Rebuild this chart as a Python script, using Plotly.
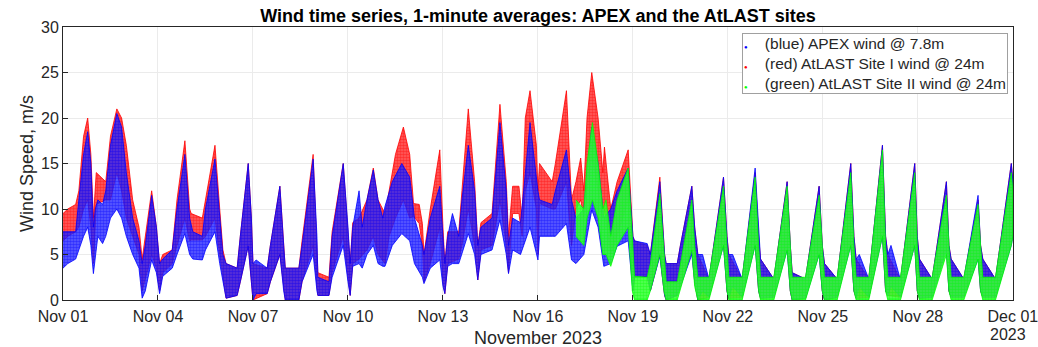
import pandas as pd
import plotly.graph_objects as go

# ---------------- data (days since 2023-11-01 00:00, wind speed m/s envelopes) -------------
blue_t = [0.00, 0.15, 0.40, 0.50, 0.65, 0.78, 0.88, 0.96, 1.02, 1.10, 1.25, 1.35, 1.50, 1.70, 1.85,
          2.00, 2.20, 2.40, 2.50, 2.60, 2.80, 2.95, 3.05, 3.15, 3.45, 3.60, 3.85, 4.00, 4.10, 4.40,
          4.50, 4.80, 4.95, 5.05, 5.15, 5.50, 5.60, 5.85, 5.95, 6.00, 6.10, 6.45, 6.55, 6.85, 6.97,
          7.02, 7.45, 7.55, 7.90, 8.02, 8.05, 8.40, 8.50, 8.85, 9.00, 9.07, 9.15, 9.35, 9.45, 9.60,
          9.80, 9.95, 10.10, 10.17, 10.40, 10.70, 10.95, 11.10, 11.35, 11.40, 11.60, 11.90, 12.00,
          12.06, 12.15, 12.30, 12.50, 12.60, 12.80, 13.00, 13.10, 13.20, 13.55, 13.80, 14.00, 14.07,
          14.20, 14.45, 14.55, 14.75, 15.00, 15.05, 15.45, 15.55, 15.90, 16.06, 16.20, 16.45, 16.55,
          16.70, 16.90, 17.08, 17.30, 17.50, 17.85, 18.00, 18.05, 18.45, 18.55, 18.85, 19.00, 19.05,
          19.40, 19.50, 19.86, 19.95, 20.05, 20.20, 20.40, 20.86, 20.97, 21.02, 21.15, 21.45, 21.86,
          21.97, 22.03, 22.45, 22.87, 22.97, 23.03, 23.45, 23.88, 23.98, 24.05, 24.45, 24.88, 24.98,
          25.05, 25.15, 25.45, 25.88, 25.98, 26.05, 26.15, 26.45, 26.90, 26.98, 27.05, 27.45, 27.90,
          27.98, 28.05, 28.45, 28.90, 28.98, 29.05, 29.45, 29.95, 30.00]
blue_lo = [3.5, 4.0, 4.5, 5.5, 7.0, 8.0, 6.0, 2.9, 5.0, 7.0, 6.2, 7.0, 9.0, 10.0, 9.0,
           7.0, 5.0, 3.5, 0.2, 1.0, 4.4, 3.0, 0.7, 2.6, 3.5, 5.0, 7.3, 5.0, 4.5, 4.4,
           5.5, 7.5, 4.0, 2.0, 0.2, 0.5, 2.0, 5.9, 2.0, 0.0, 0.7, 0.7, 2.0, 5.0, 1.0,
           0.0, 0.0, 2.0, 5.0, 1.0, 0.5, 0.5, 2.5, 6.0, 2.0, 0.5, 3.7, 4.0, 3.5, 5.0,
           6.0, 4.0, 3.7, 3.7, 6.0, 7.3, 6.5, 4.0, 2.5, 1.8, 3.5, 4.4, 1.5,
           0.7, 3.7, 4.0, 4.0, 5.0, 7.3, 5.0, 2.2, 5.0, 5.5, 8.8, 5.0, 2.9,
           5.5, 5.0, 6.0, 8.0, 4.4, 7.0, 7.0, 7.0, 8.4, 4.4, 4.0, 5.0, 7.0,
           9.9, 8.0, 3.7, 4.0, 5.9, 6.5, 1.0, 2.5, 2.6, 1.0, 4.8, 0.5, 0.0,
           0.5, 1.5, 5.0, 2.0, 0.0, 1.0, 0.3, 6.0, 1.0, 0.2, 1.5, 0.3, 6.0,
           1.0, 0.2, 0.3, 5.5, 1.0, 0.0, 0.2, 5.0, 1.0, 0.0, 0.3, 6.0, 1.0,
           0.2, 1.5, 0.3, 7.0, 1.0, 0.5, 1.5, 0.3, 6.0, 1.0, 0.2, 0.3, 5.5,
           1.0, 0.3, 0.3, 4.5, 1.0, 0.3, 0.3, 6.0, 7.0]
blue_hi = [7.5, 7.5, 7.5, 11.0, 16.0, 18.5, 15.0, 8.0, 10.0, 11.0, 10.5, 12.0, 17.0, 20.5, 19.0,
           14.0, 9.0, 6.5, 4.0, 6.0, 11.5, 8.0, 4.0, 4.5, 5.5, 10.0, 16.0, 9.0, 7.5, 7.0,
           10.0, 15.5, 9.0, 5.0, 4.0, 3.5, 7.0, 15.0, 9.0, 4.0, 4.4, 3.5, 6.0, 12.5, 6.0,
           3.5, 3.5, 6.0, 15.5, 7.0, 2.5, 2.0, 7.0, 15.0, 8.0, 4.0, 8.0, 12.0, 8.0, 11.0,
           14.3, 11.0, 9.0, 10.3, 13.0, 15.0, 13.5, 9.0, 6.0, 5.0, 9.0, 12.5, 7.0,
           4.0, 7.0, 9.5, 7.0, 11.0, 17.0, 12.0, 6.0, 8.0, 9.0, 19.5, 12.0, 6.0,
           9.0, 8.5, 12.0, 19.5, 12.0, 11.0, 10.5, 12.0, 16.5, 11.0, 9.0, 10.0, 14.0,
           19.0, 15.0, 9.0, 10.0, 12.0, 14.5, 7.0, 6.5, 6.2, 5.0, 13.0, 5.0, 4.0,
           4.0, 6.0, 12.5, 8.0, 5.0, 5.0, 2.3, 13.5, 7.0, 5.0, 5.0, 2.3, 14.5,
           7.0, 4.5, 2.3, 13.0, 6.0, 3.0, 2.3, 12.5, 6.0, 4.0, 2.3, 15.0, 7.0,
           4.5, 5.0, 2.3, 17.0, 7.0, 5.0, 6.0, 2.2, 15.0, 7.0, 4.5, 2.3, 13.0,
           6.0, 4.5, 2.3, 11.5, 6.0, 4.5, 2.3, 15.0, 13.0]

red_t = [0.00, 0.15, 0.40, 0.50, 0.65, 0.78, 0.88, 0.96, 1.05, 1.35, 1.50, 1.70, 1.85, 2.00, 2.20,
         2.40, 2.50, 2.80, 2.95, 3.05, 3.15, 3.45, 3.60, 3.85, 4.00, 4.05, 4.40, 4.50, 4.80, 4.95,
         5.05, 5.15, 5.50, 5.60, 5.85, 5.95, 6.00, 6.45, 6.55, 6.85, 7.02, 7.45, 7.55, 7.90, 8.05,
         8.40, 8.50, 8.85, 9.07, 9.15, 9.35, 9.60, 9.80, 9.95, 10.17, 10.30, 10.50, 10.75, 10.95,
         11.07, 11.25, 11.35, 11.40, 11.60, 11.90, 12.00, 12.06, 12.15, 12.50, 12.60, 12.80, 13.00,
         13.10, 13.20, 13.55, 13.80, 14.00, 14.07, 14.20, 14.40, 14.50, 14.60, 14.75, 14.95, 15.00,
         15.05, 15.45, 15.55, 15.90, 16.06, 16.20, 16.35, 16.45, 16.55, 16.70, 16.90, 17.05, 17.10,
         17.30, 17.50, 17.85, 18.00, 18.05, 18.45, 18.55, 18.85, 19.00, 19.05, 19.40, 19.50, 19.86,
         19.95, 20.05, 20.40, 20.86, 20.97, 21.03, 21.45, 21.86, 21.97, 22.03, 22.45, 22.87, 22.97,
         23.03, 23.45, 23.88, 23.98, 24.05, 24.45, 24.88, 24.98, 25.05, 25.45, 25.88, 25.98, 26.05,
         26.45, 26.90, 26.98, 27.05, 27.45, 27.90, 27.98, 28.05, 28.45, 28.90, 28.98, 29.05, 29.45,
         29.95, 30.00]
red_lo = [6.5, 7.0, 7.5, 8.0, 10.0, 11.0, 8.0, 4.0, 10.5, 11.0, 11.0, 14.0, 12.0, 9.0, 7.0,
          5.0, 1.0, 5.0, 3.5, 1.0, 3.0, 4.0, 6.0, 9.0, 6.5, 6.6, 6.6, 7.0, 9.0, 5.0,
          2.5, 0.2, 0.5, 2.0, 6.0, 2.0, 0.0, 0.7, 2.0, 5.0, 0.0, 0.0, 2.0, 6.0, 0.5,
          0.5, 3.0, 7.0, 0.5, 4.0, 4.5, 5.5, 7.0, 5.0, 4.0, 7.0, 9.0, 11.0, 9.0,
          9.2, 8.4, 5.9, 2.0, 4.0, 8.0, 2.0, 0.7, 4.0, 4.5, 6.0, 10.0, 6.0,
          2.2, 5.5, 6.0, 11.0, 6.0, 3.0, 9.5, 9.5, 7.0, 12.0, 14.0, 10.0, 5.0,
          10.6, 10.0, 10.0, 13.0, 6.0, 10.0, 11.0, 9.0, 12.0, 16.0, 12.0, 9.0, 10.0,
          5.0, 7.0, 11.0, 1.0, 2.5, 2.6, 1.0, 5.0, 0.5, 0.0, 0.5, 1.5, 5.5,
          2.0, 0.0, 0.3, 6.5, 1.0, 0.2, 0.3, 6.5, 1.0, 0.2, 0.3, 6.0, 1.0,
          0.0, 0.2, 5.5, 1.0, 0.0, 0.3, 6.5, 1.0, 0.2, 0.3, 7.5, 1.0, 0.5,
          0.3, 6.5, 1.0, 0.2, 0.3, 6.0, 1.0, 0.3, 0.3, 5.0, 1.0, 0.3, 0.3,
          6.5, 7.0]
red_hi = [9.5, 10.0, 10.5, 12.0, 18.0, 20.0, 16.0, 9.0, 14.0, 13.0, 18.0, 21.0, 20.0, 17.0, 11.0,
          8.0, 4.5, 12.0, 8.0, 4.0, 5.0, 5.5, 11.0, 17.5, 10.0, 9.5, 9.0, 11.0, 17.0, 10.0,
          5.5, 4.0, 3.5, 7.0, 15.0, 9.0, 4.0, 3.5, 6.0, 12.5, 3.5, 3.5, 6.5, 16.0, 3.0,
          2.5, 7.5, 15.0, 4.0, 8.5, 9.0, 11.0, 14.5, 11.0, 9.5, 12.0, 16.0, 19.0, 16.0,
          10.6, 10.5, 8.4, 5.0, 10.0, 16.5, 8.0, 4.0, 7.5, 7.5, 12.0, 21.0, 13.0,
          6.0, 8.5, 9.5, 21.5, 13.0, 7.0, 12.5, 12.5, 9.0, 20.0, 23.0, 17.0, 12.0,
          15.0, 13.0, 15.0, 23.0, 11.0, 13.0, 15.6, 12.0, 20.0, 25.0, 20.0, 14.0, 16.8,
          10.0, 13.0, 16.5, 7.0, 6.5, 6.0, 5.0, 13.5, 5.0, 4.0, 4.0, 6.0, 12.5,
          8.0, 5.0, 2.3, 13.5, 7.0, 5.0, 2.3, 14.0, 7.0, 4.5, 2.3, 13.0, 6.0,
          3.0, 2.3, 12.5, 6.0, 4.0, 2.3, 15.0, 7.0, 4.5, 2.3, 17.0, 7.0, 5.0,
          2.2, 15.0, 7.0, 4.5, 2.3, 13.0, 6.0, 4.5, 2.3, 11.0, 6.0, 4.5, 2.3,
          15.0, 13.0]

green_t = [16.20, 16.45, 16.55, 16.72, 16.90, 17.05, 17.15, 17.30, 17.50, 17.85, 17.98, 18.05,
           18.45, 18.55, 18.85, 18.98, 19.05, 19.40, 19.50, 19.86, 19.95, 20.05, 20.40, 20.86,
           20.97, 21.03, 21.45, 21.86, 21.97, 22.03, 22.45, 22.87, 22.97, 23.03, 23.45, 23.88,
           23.98, 24.05, 24.45, 24.88, 24.98, 25.05, 25.45, 25.88, 25.98, 26.05, 26.45, 26.90,
           26.98, 27.05, 27.45, 27.90, 27.98, 28.05, 28.45, 28.90, 28.98, 29.05, 29.45, 29.95,
           30.00]
green_lo = [7.0, 6.0, 9.0, 11.0, 9.0, 5.0, 5.0, 3.7, 6.0, 8.0, 1.0, 0.0,
            0.0, 1.0, 5.0, 1.0, 0.0, 0.0, 1.0, 5.5, 1.5, 0.0, 0.0, 6.0,
            1.0, 0.0, 0.0, 6.0, 1.0, 0.0, 0.0, 5.5, 1.0, 0.0, 0.0, 5.0,
            1.0, 0.0, 0.0, 6.0, 1.0, 0.0, 0.0, 7.0, 1.0, 0.0, 0.0, 6.0,
            1.0, 0.0, 0.0, 5.0, 1.0, 0.0, 0.0, 4.5, 1.0, 0.0, 0.0, 6.0,
            7.0]
green_hi = [11.0, 10.0, 15.0, 19.5, 15.0, 10.0, 11.0, 7.0, 11.0, 14.5, 7.0, 2.6,
            2.5, 4.0, 11.7, 5.0, 2.0, 2.0, 4.0, 11.0, 6.0, 2.5, 2.5, 12.5,
            6.0, 2.5, 2.5, 13.5, 6.0, 2.5, 2.5, 12.5, 6.0, 2.5, 2.5, 11.5,
            6.0, 2.5, 2.5, 14.0, 6.0, 2.5, 2.5, 16.5, 6.0, 2.5, 2.5, 14.0,
            6.0, 2.5, 2.5, 11.5, 6.0, 2.5, 2.5, 10.5, 6.0, 2.5, 2.5, 14.0,
            12.0]

series_names = ["(blue) APEX wind @ 7.8m",
                "(red) AtLAST Site I wind @ 24m",
                "(green) AtLAST Site II wind @ 24m"]
series_colors = ["#0000FF", "#FF0000", "#00FF00"]
tick_labels = ["Nov 01", "Nov 04", "Nov 07", "Nov 10", "Nov 13", "Nov 16",
               "Nov 19", "Nov 22", "Nov 25", "Nov 28", "Dec 01"]
y_ticks = [0, 5, 10, 15, 20, 25, 30]

# ---------------- figure ----------------
START = pd.Timestamp("2023-11-01")


def to_dates(days):
    return list(START + pd.to_timedelta(days, unit="D"))


def band(t, lo, hi, color, bg, name):
    d = to_dates(t)
    return go.Scatter(x=d + d[::-1], y=list(hi) + list(lo)[::-1],
                      fill="toself", fillcolor=bg, mode="lines",
                      fillpattern=dict(shape=".", fgcolor=color, bgcolor=bg,
                                       size=3, solidity=0.55),
                      line=dict(color=color, width=0.8),
                      hoverinfo="skip", showlegend=False, name=name)


fig = go.Figure()
# drawing order: red below blue, green on top
fig.add_trace(band(red_t, red_lo, red_hi, "#FF0000", "rgba(255,40,40,0.75)", series_names[1]))
fig.add_trace(band(blue_t, blue_lo, blue_hi, "#0000FF", "rgba(40,40,255,0.75)", series_names[0]))
fig.add_trace(band(green_t, green_lo, green_hi, "#00FF00", "rgba(60,255,60,0.85)", series_names[2]))

# legend box as a text block with coloured dots
legend_text = "<br>".join(
    "<span style='color:%s;font-size:6px'>●</span>    %s" % (c, n)
    for c, n in zip(series_colors, series_names))

tick_dates = list(pd.date_range("2023-11-01", "2023-12-01", freq="3D"))

font_family = "Liberation Sans, Arial, sans-serif"
fig.update_layout(
    width=1038, height=347,
    margin=dict(l=63, r=25, t=27, b=47, autoexpand=False),
    paper_bgcolor="white", plot_bgcolor="white",
    font=dict(family=font_family, color="#262626", size=16),
    title=dict(text="<b>Wind time series, 1-minute averages: APEX and the AtLAST sites</b>",
               x=0.5, xanchor="center", xref="paper", y=0.955, yanchor="middle",
               font=dict(size=18, color="#000000")),
    showlegend=False,
    xaxis=dict(type="date", range=["2023-11-01", "2023-12-01 00:05"],
               tickvals=tick_dates, ticktext=tick_labels, automargin=False,
               showgrid=True, gridcolor="#ebebeb", gridwidth=1,
               showline=True, linecolor="#262626", linewidth=1, mirror=True,
               ticks="inside", ticklen=5, tickcolor="#262626",
               tickfont=dict(size=16), zeroline=False, ticklabelstandoff=2,
               ticklabeloverflow="allow"),
    yaxis=dict(range=[0, 30], tickvals=y_ticks, automargin=False,
               showgrid=True, gridcolor="#ebebeb", gridwidth=1,
               showline=True, linecolor="#262626", linewidth=1, mirror=True,
               ticks="inside", ticklen=5, tickcolor="#262626",
               tickfont=dict(size=16), zeroline=False,
               title=dict(text="Wind Speed, m/s", font=dict(size=18), standoff=2)),
    annotations=[
        dict(text="November 2023", x=0.5, y=-0.139, xref="paper", yref="paper",
             xanchor="center", yanchor="middle", showarrow=False, font=dict(size=18)),
        dict(text="2023", x=0.995, y=-0.125, xref="paper", yref="paper",
             xanchor="center", yanchor="middle", showarrow=False, font=dict(size=16)),
        dict(text=legend_text, x=0.9947, y=0.978, xref="paper", yref="paper",
             xanchor="right", yanchor="top", showarrow=False, align="left",
             bgcolor="white", bordercolor="#a0a0a0", borderwidth=1, borderpad=1,
             font=dict(size=15.5, color="#262626")),
    ],
)

fig.write_html("out.html", config={"displayModeBar": False},
               post_script="document.body.style.margin='0';")
